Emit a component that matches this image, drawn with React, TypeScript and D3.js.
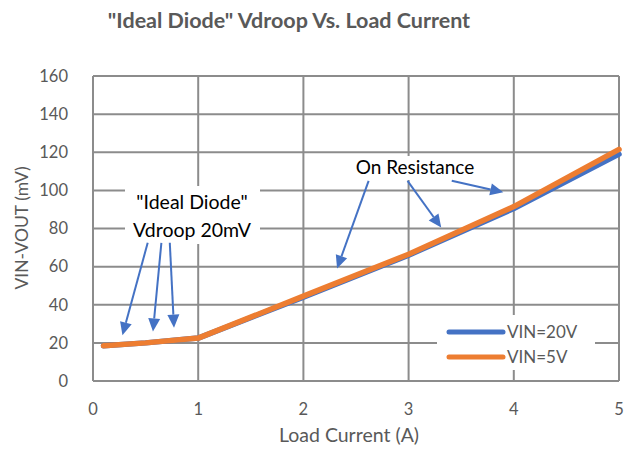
import * as d3 from 'd3';
import React from 'react';

const width = 634;
const height = 449;

// load current (A)
const current = [0.1, 0.5, 1, 2, 3, 4, 5];
// droop (mV)
const vin20 = [18.5, 20, 22.5, 44, 66, 90.5, 119];
const vin5 = [18.5, 20, 22.5, 44.5, 66.5, 91.5, 121.5];

const xTicks = [0, 1, 2, 3, 4, 5];
const yTicks = [0, 20, 40, 60, 80, 100, 120, 140, 160];

const series = [
  { name: 'VIN=20V', values: vin20, color: '#4472C4' },
  { name: 'VIN=5V', values: vin5, color: '#ED7D31' },
];

const font = 'Lato, "Open Sans", sans-serif';
const gridColor = '#8c8c8c';
const textColor = '#595959';
const arrowColor = '#4472C4';

const x = d3.scaleLinear().domain([0, 5]).range([93, 619]);
const y = d3.scaleLinear().domain([0, 160]).range([381, 76]);

// annotation arrows: [fromX, fromY, toX, toY] in data units
const diodeArrows = [
  [0.52, 72.5, 0.28, 24],
  [0.65, 72.5, 0.57, 26],
  [0.73, 72.5, 0.77, 28],
];
const resistanceArrows = [
  [2.62, 105, 2.32, 59],
  [2.99, 105, 3.31, 80.5],
  [3.41, 105, 3.9, 99],
];

const Arrow = ({ a }: { a: number[] }) => {
  const x1 = x(a[0]);
  const y1 = y(a[1]);
  const x2 = x(a[2]);
  const y2 = y(a[3]);
  const ang = Math.atan2(y2 - y1, x2 - x1);
  const len = 13;
  const w = 6;
  const bx = x2 - len * Math.cos(ang);
  const by = y2 - len * Math.sin(ang);
  const px = -Math.sin(ang) * w;
  const py = Math.cos(ang) * w;
  return (
    <g>
      <line x1={x1} y1={y1} x2={bx} y2={by} stroke={arrowColor} strokeWidth={2} />
      <path
        d={`M${x2},${y2}L${bx + px},${by + py}L${bx - px},${by - py}Z`}
        fill={arrowColor}
      />
    </g>
  );
};

export default function App() {
  const line = d3
    .line<number>()
    .x((_, i) => x(current[i]))
    .y((d) => y(d));

  return (
    <svg
      width={width}
      height={height}
      style={{ position: 'absolute', left: 0, top: 0, background: '#fff' }}
      fontFamily={font}
    >
      <text
        x={289}
        y={28}
        textAnchor="middle"
        fontSize={21.5}
        fontWeight="bold"
        fill={textColor}
      >
        "Ideal Diode" Vdroop Vs. Load Current
      </text>

      {/* grid */}
      {yTicks.map((t) => (
        <line key={'gy' + t} x1={x(0)} x2={x(5)} y1={y(t)} y2={y(t)} stroke={gridColor} strokeWidth={2} />
      ))}
      {xTicks.map((t) => (
        <line key={'gx' + t} x1={x(t)} x2={x(t)} y1={y(0)} y2={y(160)} stroke={gridColor} strokeWidth={2} />
      ))}

      {/* tick labels */}
      {yTicks.map((t) => (
        <text key={'ly' + t} x={68} y={y(t)} dy="0.35em" textAnchor="end" fontSize={16.5} fill={textColor}>
          {t}
        </text>
      ))}
      {xTicks.map((t) => (
        <text key={'lx' + t} x={x(t)} y={415} textAnchor="middle" fontSize={16.5} fill={textColor}>
          {t}
        </text>
      ))}

      <text x={349} y={442} textAnchor="middle" fontSize={19.5} fill={textColor}>
        Load Current (A)
      </text>
      <text
        transform={`translate(28,228) rotate(-90)`}
        textAnchor="middle"
        fontSize={17.5}
        fill={textColor}
      >
        VIN-VOUT (mV)
      </text>

      {/* series */}
      {series.map((s) => (
        <path
          key={s.name}
          d={line(s.values) || ''}
          fill="none"
          stroke={s.color}
          strokeWidth={5.5}
          strokeLinecap="round"
          strokeLinejoin="round"
        />
      ))}

      {/* annotation: ideal diode */}
      <rect x={125} y={186} width={135} height={58} fill="#fff" />
      <text x={192} y={209} textAnchor="middle" fontSize={19.5} fill="#000">
        "Ideal Diode"
      </text>
      <text x={192} y={237} textAnchor="middle" fontSize={19.5} fill="#000">
        Vdroop 20mV
      </text>
      {diodeArrows.map((a, i) => (
        <Arrow key={'da' + i} a={a} />
      ))}

      {/* annotation: on resistance */}
      <rect x={346} y={156} width={138} height={24} fill="#fff" />
      <text x={415} y={174} textAnchor="middle" fontSize={19} fill="#000">
        On Resistance
      </text>
      {resistanceArrows.map((a, i) => (
        <Arrow key={'ra' + i} a={a} />
      ))}

      {/* legend */}
      <rect x={437} y={315} width={158} height={55} fill="#fff" />
      {series.map((s, i) => (
        <g key={'lg' + s.name}>
          <line
            x1={449}
            x2={503}
            y1={332 + i * 25}
            y2={332 + i * 25}
            stroke={s.color}
            strokeWidth={5}
            strokeLinecap="round"
          />
          <text x={507} y={332 + i * 25} dy="0.35em" fontSize={17} fill={textColor}>
            {s.name}
          </text>
        </g>
      ))}
    </svg>
  );
}
